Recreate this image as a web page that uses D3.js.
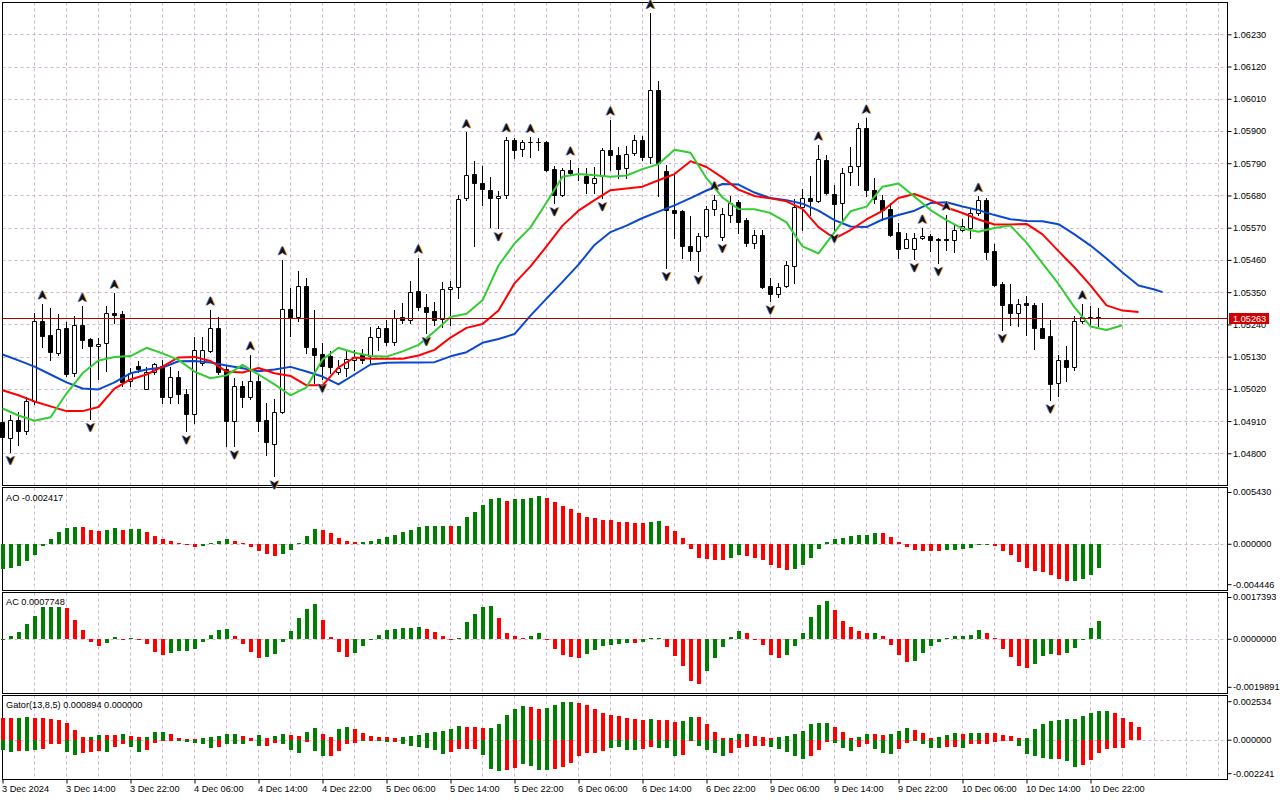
<!DOCTYPE html>
<html>
<head>
<meta charset="utf-8">
<script src="https://cdn.jsdelivr.net/npm/d3@7"></script>
<style>
  body { margin: 0; background: #fff; overflow: hidden; }
  svg text { font-family: "Liberation Sans", Arial, sans-serif; font-size: 9.2px; fill: #000; }
  svg text.bid { fill: #fff; }
</style>
</head>
<body>
<div id="chart"></div>
<script>
// EURUSD H1, 3 Dec 06:00 .. 10 Dec 23:00 (one entry per bar)
const open = [
  1.04908,1.04853,1.04915,1.04875,1.04978,1.05253,1.05205,1.05143,1.05226,1.05073,
  1.05239,1.05190,1.05165,1.05177,1.05279,1.05276,1.05046,1.05099,1.05020,1.05077,
  1.05099,1.04993,1.05062,1.05004,1.04935,1.05109,1.05150,1.05228,1.05089,1.04910,
  1.05031,1.04991,1.05046,1.04912,1.04832,1.04941,1.05293,1.05265,1.05372,1.05160,
  1.05139,1.05131,1.05077,1.05092,1.05120,1.05137,1.05131,1.05197,1.05228,1.05180,
  1.05264,1.05255,1.05353,1.05300,1.05285,1.05260,1.05361,1.05367,1.05671,1.05754,
  1.05723,1.05700,1.05671,1.05680,1.05870,1.05838,1.05861,1.05862,1.05862,1.05770,
  1.05683,1.05766,1.05754,1.05747,1.05723,1.05745,1.05836,1.05819,1.05774,1.05824,
  1.05869,1.05811,1.06041,1.05765,1.05631,1.05626,1.05509,1.05489,1.05540,1.05634,
  1.05537,1.05614,1.05656,1.05595,1.05518,1.05546,1.05372,1.05342,1.05370,1.05438,
  1.05641,1.05671,1.05660,1.05802,1.05686,1.05654,1.05759,1.05779,1.05910,1.05700,
  1.05666,1.05635,1.05554,1.05501,1.05497,1.05535,1.05543,1.05532,1.05532,1.05529,
  1.05561,1.05569,1.05620,1.05666,1.05489,1.05379,1.05311,1.05279,1.05314,1.05307,
  1.05228,1.05199,1.05040,1.05117,1.05094,1.05250,1.05266,1.05265
];
const high = [
  1.04922,1.04932,1.04941,1.04991,1.05279,1.05310,1.05296,1.05276,1.05247,1.05270,
  1.05302,1.05195,1.05194,1.05302,1.05347,1.05287,1.05092,1.05116,1.05096,1.05109,
  1.05120,1.05094,1.05082,1.05018,1.05196,1.05196,1.05290,1.05264,1.05103,1.05058,
  1.05048,1.05137,1.05069,1.04972,1.04986,1.05461,1.05365,1.05421,1.05399,1.05290,
  1.05175,1.05148,1.05120,1.05148,1.05154,1.05156,1.05231,1.05234,1.05256,1.05290,
  1.05313,1.05387,1.05467,1.05345,1.05317,1.05384,1.05387,1.05683,1.05895,1.05796,
  1.05781,1.05743,1.05694,1.05881,1.05876,1.05870,1.05879,1.05876,1.05866,1.05779,
  1.05774,1.05802,1.05775,1.05774,1.05777,1.05842,1.05938,1.05847,1.05850,1.05887,
  1.05884,1.06302,1.06069,1.05783,1.05751,1.05631,1.05611,1.05552,1.05643,1.05683,
  1.05637,1.05677,1.05666,1.05603,1.05561,1.05563,1.05399,1.05382,1.05455,1.05668,
  1.05703,1.05745,1.05853,1.05819,1.05717,1.05774,1.05847,1.05927,1.05944,1.05740,
  1.05683,1.05654,1.05586,1.05552,1.05552,1.05569,1.05548,1.05536,1.05614,1.05580,
  1.05600,1.05637,1.05677,1.05670,1.05515,1.05385,1.05379,1.05325,1.05336,1.05313,
  1.05313,1.05256,1.05137,1.05165,1.05267,1.05310,1.05304,1.05296
];
const low = [
  1.04840,1.04805,1.04830,1.04867,1.04967,1.05163,1.05117,1.05134,1.05065,1.05063,
  1.05160,1.04918,1.05052,1.05080,1.05245,1.05029,1.05029,1.05079,1.05018,1.05072,
  1.04970,1.04970,1.04970,1.04875,1.04904,1.05103,1.05147,1.05072,1.04824,1.04824,
  1.04957,1.04987,1.04875,1.04793,1.04722,1.04936,1.05199,1.05251,1.05143,1.05041,
  1.05052,1.05075,1.05072,1.05063,1.05086,1.05109,1.05109,1.05154,1.05168,1.05171,
  1.05245,1.05245,1.05290,1.05211,1.05239,1.05232,1.05239,1.05330,1.05665,1.05506,
  1.05646,1.05572,1.05569,1.05672,1.05808,1.05816,1.05811,1.05836,1.05762,1.05654,
  1.05679,1.05751,1.05734,1.05688,1.05688,1.05671,1.05768,1.05740,1.05740,1.05819,
  1.05802,1.05791,1.05677,1.05433,1.05535,1.05467,1.05461,1.05421,1.05539,1.05614,
  1.05529,1.05588,1.05552,1.05506,1.05501,1.05364,1.05319,1.05335,1.05369,1.05382,
  1.05563,1.05614,1.05659,1.05686,1.05563,1.05592,1.05717,1.05717,1.05677,1.05654,
  1.05597,1.05540,1.05467,1.05499,1.05463,1.05530,1.05489,1.05450,1.05495,1.05486,
  1.05557,1.05535,1.05614,1.05463,1.05372,1.05222,1.05239,1.05236,1.05203,1.05156,
  1.05192,1.04981,1.04995,1.05046,1.05086,1.05245,1.05239,1.05236
];
const close = [
  1.04854,1.04913,1.04875,1.04978,1.05253,1.05199,1.05146,1.05225,1.05072,1.05238,
  1.05188,1.05165,1.05172,1.05279,1.05272,1.05044,1.05075,1.05089,1.05079,1.05105,
  1.04991,1.05061,1.05003,1.04935,1.05151,1.05151,1.05228,1.05077,1.04910,1.05029,
  1.04991,1.05048,1.04910,1.04838,1.04941,1.05293,1.05265,1.05370,1.05162,1.05137,
  1.05097,1.05093,1.05092,1.05122,1.05130,1.05120,1.05197,1.05228,1.05180,1.05262,
  1.05255,1.05351,1.05300,1.05281,1.05256,1.05361,1.05368,1.05669,1.05751,1.05723,
  1.05702,1.05671,1.05679,1.05870,1.05836,1.05864,1.05864,1.05861,1.05768,1.05683,
  1.05768,1.05757,1.05752,1.05723,1.05740,1.05836,1.05817,1.05770,1.05822,1.05869,
  1.05811,1.06041,1.05791,1.05629,1.05620,1.05506,1.05489,1.05543,1.05635,1.05666,
  1.05618,1.05654,1.05588,1.05518,1.05546,1.05368,1.05342,1.05368,1.05444,1.05641,
  1.05670,1.05660,1.05804,1.05688,1.05652,1.05757,1.05782,1.05910,1.05700,1.05669,
  1.05631,1.05546,1.05497,1.05533,1.05535,1.05543,1.05527,1.05528,1.05527,1.05563,
  1.05575,1.05620,1.05666,1.05486,1.05376,1.05307,1.05279,1.05310,1.05307,1.05228,
  1.05194,1.05037,1.05117,1.05094,1.05253,1.05264,1.05265,1.05263
];
const lastPrice = 1.05263;

// Bill Williams fractals (bar indices)
const fractalUp = [5, 10, 14, 26, 31, 35, 52, 58, 63, 66, 71, 76, 81, 89, 102, 108, 115, 118, 122, 135];
const fractalDown = [1, 11, 23, 29, 34, 40, 53, 62, 69, 75, 83, 87, 90, 96, 104, 114, 117, 125, 131];

// Alligator lines, read every second bar (lines run past the last bar by their shift)
const jaw = [
  1.05137,1.05117,1.05096,1.05069,1.05042,1.05021,1.05018,1.05042,1.05073,1.05086,
  1.05093,1.05114,1.05115,1.05110,1.05100,1.05090,1.05080,1.05086,1.05095,1.05079,
  1.05062,1.05035,1.05069,1.05103,1.05109,1.05110,1.05110,1.05111,1.05131,1.05145,
  1.05177,1.05190,1.05207,1.05270,1.05328,1.05385,1.05444,1.05511,1.05555,1.05577,
  1.05603,1.05625,1.05646,1.05671,1.05697,1.05719,1.05717,1.05690,1.05671,1.05664,
  1.05652,1.05628,1.05596,1.05574,1.05572,1.05598,1.05613,1.05628,1.05654,1.05657,
  1.05642,1.05630,1.05613,1.05599,1.05593,1.05592,1.05582,1.05547,1.05509,1.05465,
  1.05417,1.05373,1.05359,1.05350
];
const teeth = [
  1.05015,1.04998,1.04977,1.04960,1.04944,1.04944,1.04958,1.05021,1.05052,1.05069,
  1.05096,1.05127,1.05129,1.05115,1.05079,1.05076,1.05091,1.05073,1.05064,1.05032,
  1.05032,1.05093,1.05127,1.05123,1.05123,1.05123,1.05134,1.05153,1.05195,1.05228,
  1.05241,1.05287,1.05380,1.05438,1.05506,1.05577,1.05628,1.05664,1.05698,1.05704,
  1.05710,1.05732,1.05753,1.05797,1.05777,1.05741,1.05700,1.05678,1.05670,1.05660,
  1.05634,1.05572,1.05533,1.05562,1.05598,1.05627,1.05671,1.05685,1.05664,1.05639,
  1.05620,1.05598,1.05581,1.05581,1.05583,1.05547,1.05490,1.05434,1.05373,1.05305,
  1.05287,1.05282
];
const lips = [
  1.04953,1.04929,1.04911,1.04923,1.05004,1.05073,1.05117,1.05129,1.05132,1.05160,
  1.05141,1.05119,1.05079,1.05056,1.05066,1.05102,1.05069,1.05035,1.04998,1.05025,
  1.05120,1.05160,1.05143,1.05132,1.05130,1.05148,1.05170,1.05216,1.05265,1.05276,
  1.05322,1.05441,1.05516,1.05571,1.05656,1.05744,1.05753,1.05749,1.05744,1.05748,
  1.05770,1.05787,1.05836,1.05826,1.05739,1.05673,1.05634,1.05633,1.05620,1.05588,
  1.05506,1.05482,1.05555,1.05626,1.05642,1.05710,1.05721,1.05676,1.05630,1.05596,
  1.05567,1.05556,1.05569,1.05577,1.05519,1.05448,1.05378,1.05298,1.05233,1.05221,
  1.05237
];
const jawBars = d3.range(0, 145, 2).concat([145]);
const teethBars = d3.range(0, 143, 2);
const lipsBars = d3.range(0, 141, 2);

// Awesome Oscillator
const ao = [
  -0.00252,-0.00241,-0.00218,-0.00167,-0.00109,-0.00017,0.00054,0.00129,0.00170,0.00177,
  0.00173,0.00146,0.00136,0.00150,0.00170,0.00150,0.00156,0.00156,0.00126,0.00085,
  0.00054,0.00034,0.00014,0.00003,-0.00024,-0.00014,0.00010,0.00034,0.00054,0.00034,
  0.00010,-0.00024,-0.00068,-0.00095,-0.00116,-0.00095,-0.00054,0.00010,0.00085,0.00156,
  0.00146,0.00112,0.00065,0.00034,0.00020,0.00027,0.00034,0.00054,0.00078,0.00095,
  0.00126,0.00150,0.00180,0.00187,0.00187,0.00187,0.00187,0.00187,0.00279,0.00330,
  0.00401,0.00462,0.00473,0.00445,0.00462,0.00462,0.00473,0.00493,0.00476,0.00435,
  0.00391,0.00360,0.00320,0.00279,0.00269,0.00252,0.00248,0.00228,0.00228,0.00218,
  0.00218,0.00228,0.00238,0.00187,0.00136,0.00065,-0.00048,-0.00136,-0.00150,-0.00160,
  -0.00160,-0.00136,-0.00109,-0.00119,-0.00136,-0.00160,-0.00211,-0.00238,-0.00262,-0.00252,
  -0.00211,-0.00136,-0.00048,0.00020,0.00054,0.00065,0.00085,0.00095,0.00095,0.00116,
  0.00116,0.00078,0.00024,-0.00024,-0.00058,-0.00068,-0.00068,-0.00068,-0.00058,-0.00058,
  -0.00048,-0.00034,-0.00003,-0.00003,-0.00017,-0.00068,-0.00109,-0.00180,-0.00241,-0.00272,
  -0.00282,-0.00313,-0.00354,-0.00374,-0.00374,-0.00354,-0.00313,-0.002417
];
const aoColors = "gggggggggg" + "rrrggrggrr" + "rrrrrggggr" + "rrrrrggggg" + "rrrrrggggg" +
  "ggggggrggg" + "gggrggggrr" + "rrrrrrrrrr" + "rggrrrrrrr" + "rggrrrrrrg" +
  "gggggggggg" + "rrrrrrrrgg" + "ggggrrrrrr" + "rrrrgggg";

// Accelerator Oscillator
const ac = [
  0.00000,0.00012,0.00030,0.00062,0.00095,0.00133,0.00133,0.00133,0.00128,0.00079,
  0.00039,-0.00011,-0.00029,-0.00015,0.00008,-0.00001,0.00004,0.00003,-0.00021,-0.00052,
  -0.00066,-0.00058,-0.00050,-0.00050,-0.00041,-0.00010,0.00017,0.00039,0.00041,0.00012,
  -0.00021,-0.00052,-0.00079,-0.00073,-0.00062,-0.00011,0.00033,0.00087,0.00127,0.00145,
  0.00079,0.00008,-0.00052,-0.00075,-0.00058,-0.00028,0.00001,0.00019,0.00037,0.00041,
  0.00048,0.00048,0.00052,0.00041,0.00029,0.00012,-0.00001,0.00004,0.00072,0.00104,
  0.00133,0.00137,0.00087,0.00025,0.00012,0.00004,0.00012,0.00025,-0.00001,-0.00040,
  -0.00065,-0.00073,-0.00077,-0.00062,-0.00044,-0.00028,-0.00023,-0.00019,-0.00015,-0.00014,
  -0.00010,0.00007,0.00007,-0.00032,-0.00069,-0.00110,-0.00173,-0.00185,-0.00131,-0.00077,
  -0.00032,0.00008,0.00033,0.00025,-0.00001,-0.00025,-0.00065,-0.00077,-0.00065,-0.00028,
  0.00025,0.00091,0.00141,0.00157,0.00120,0.00075,0.00050,0.00033,0.00025,0.00025,
  0.00012,-0.00025,-0.00065,-0.00094,-0.00090,-0.00058,-0.00029,-0.00011,0.00004,0.00012,
  0.00012,0.00017,0.00037,0.00025,0.00004,-0.00041,-0.00075,-0.00112,-0.00120,-0.00104,
  -0.00070,-0.00062,-0.00066,-0.00058,-0.00037,-0.00002,0.00046,0.0007748
];
const acColors = "ggggggggrr" + "rrrggrgrrr" + "rggggggggr" + "rrrggggggg" + "rrrrgggggg" +
  "gggrrrrggg" + "ggrrrrggrr" + "rrrggggggr" + "gggrrrrrgg" + "gggrrrrrgg" +
  "ggggrrrrrg" + "rrrrgggggg" + "gggrrrrrrg" + "ggrggggg";

// Gator oscillator: upper |jaw-teeth|, lower -|teeth-lips|
const gatorUp = [
  0.00147,0.00147,0.00147,0.00153,0.00147,0.00147,0.00138,0.00131,0.00114,0.00066,
  0.00020,0.00020,0.00035,0.00035,0.00035,0.00042,0.00026,0.00022,0.00022,0.00055,
  0.00055,0.00042,0.00013,0.00007,0.00007,0.00015,0.00020,0.00028,0.00042,0.00042,
  0.00026,0.00013,0.00035,0.00013,0.00026,0.00042,0.00035,0.00026,0.00055,0.00081,
  0.00042,0.00022,0.00075,0.00088,0.00075,0.00048,0.00028,0.00022,0.00020,0.00015,
  0.00020,0.00031,0.00035,0.00048,0.00055,0.00061,0.00075,0.00094,0.00088,0.00088,
  0.00081,0.00081,0.00107,0.00169,0.00206,0.00228,0.00221,0.00206,0.00212,0.00234,
  0.00252,0.00252,0.00245,0.00232,0.00206,0.00180,0.00167,0.00160,0.00147,0.00140,
  0.00136,0.00140,0.00134,0.00134,0.00121,0.00127,0.00153,0.00153,0.00107,0.00055,
  0.00015,0.00015,0.00042,0.00042,0.00028,0.00022,0.00013,0.00022,0.00028,0.00042,
  0.00061,0.00107,0.00114,0.00114,0.00088,0.00055,0.00015,0.00022,0.00042,0.00042,
  0.00035,0.00042,0.00061,0.00081,0.00068,0.00048,0.00015,0.00022,0.00035,0.00048,
  0.00042,0.00048,0.00048,0.00048,0.00048,0.00035,0.00028,0.00015,0.00015,0.00075,
  0.00107,0.00127,0.00134,0.00140,0.00142,0.00162,0.00180,0.00193,0.00193,0.00180,
  0.00147,0.00121,0.000894
];
const gatorDown = [
  -0.00064,-0.00075,-0.00068,-0.00068,-0.00061,-0.00057,-0.00022,-0.00022,-0.00077,-0.00094,
  -0.00085,-0.00077,-0.00072,-0.00077,-0.00044,-0.00022,-0.00044,-0.00077,-0.00061,-0.00015,
  -0.00002,-0.00001,-0.00002,-0.00009,-0.00015,-0.00022,-0.00048,-0.00042,-0.00028,-0.00028,
  -0.00028,-0.00004,-0.00035,-0.00035,-0.00015,-0.00028,-0.00061,-0.00081,-0.00009,-0.00068,
  -0.00101,-0.00101,-0.00068,-0.00028,-0.00015,-0.00002,-0.00004,-0.00004,-0.00009,-0.00009,
  -0.00022,-0.00035,-0.00042,-0.00048,-0.00061,-0.00088,-0.00075,-0.00057,-0.00057,-0.00057,
  -0.00094,-0.00189,-0.00204,-0.00195,-0.00182,-0.00156,-0.00167,-0.00199,-0.00199,-0.00189,
  -0.00177,-0.00151,-0.00107,-0.00081,-0.00081,-0.00068,-0.00048,-0.00042,-0.00061,-0.00061,
  -0.00057,-0.00042,-0.00048,-0.00053,-0.00101,-0.00094,-0.00004,-0.00035,-0.00061,-0.00081,
  -0.00101,-0.00081,-0.00048,-0.00042,-0.00035,-0.00035,-0.00042,-0.00055,-0.00075,-0.00107,
  -0.00121,-0.00107,-0.00061,-0.00009,-0.00015,-0.00048,-0.00068,-0.00042,-0.00028,-0.00055,
  -0.00081,-0.00088,-0.00055,-0.00015,-0.00002,-0.00028,-0.00048,-0.00048,-0.00042,-0.00042,
  -0.00048,-0.00028,-0.00022,-0.00022,-0.00009,-0.00002,-0.00002,-0.00035,-0.00088,-0.00107,
  -0.00114,-0.00121,-0.00123,-0.00138,-0.00173,-0.00160,-0.00129,-0.00081,-0.00055,-0.00048,
  -0.00048
];
const gatorUpColors = "rrggrrrrrr" + "rggrrgrrgg" + "grrrrggggg" + "rrgrggrrgg" + "rrggrrrrrr" +
  "ggggggggrr" + "rgggggrrgg" + "ggrrrrrrrr" + "rgrrrggrrr" + "rggrrrrggg" +
  "ggggrrrggr" + "rgggrrrggg" + "rggrrrrrgg" + "gggggggggr" + "rrr";
const gatorDownColors = "ggrggrrrgg" + "rrrgrrggrr" + "rrgggggrgg" + "grgrrgggrg" + "grrrrgrggr" +
  "ggggggrrrr" + "gggrrggggr" + "rrrrrrgggg" + "rrgggrrggg" + "grrrrrgggg" +
  "grrrgggrrg" + "ggrrggggrr" + "grrrrrrggg" + "ggrggrrrrr" + "r";

// axis labels
const priceTicks = [1.06230, 1.06120, 1.06010, 1.05900, 1.05790, 1.05680, 1.05570,
  1.05460, 1.05350, 1.05240, 1.05130, 1.05020, 1.04910, 1.04800];
const timeLabels = ["3 Dec 2024", "3 Dec 14:00", "3 Dec 22:00", "4 Dec 06:00", "4 Dec 14:00",
  "4 Dec 22:00", "5 Dec 06:00", "5 Dec 14:00", "5 Dec 22:00", "6 Dec 06:00", "6 Dec 14:00",
  "6 Dec 22:00", "9 Dec 06:00", "9 Dec 14:00", "9 Dec 22:00", "10 Dec 06:00", "10 Dec 14:00",
  "10 Dec 22:00"];
const aoTicks = [0.005430, 0, -0.004446];
const acTicks = [0.0017393, 0, -0.0019891];
const gatorTicks = [0.002534, 0, -0.002241];

const GREEN = '#008000', RED = '#ff0000', GRID = '#cdb6cd';
const left = 2.5, right = 1227.5;

const svg = d3.select('#chart')
  .append('svg')
  .attr('width', 1280)
  .attr('height', 800);

svg.append('rect').attr('width', 1280).attr('height', 800).attr('fill', '#fff');

const x = d3.scaleLinear().domain([0, 152]).range([2.5, 1218.5]);

const panels = {
  main: { top: 2.5, bottom: 485.5 },
  ao: { top: 487.5, bottom: 590.5 },
  ac: { top: 592.5, bottom: 693.5 },
  gator: { top: 695.5, bottom: 779.5 }
};

const yMain = d3.scaleLinear().domain([1.04800, 1.06230]).range([453.3, 34.3]);
const yAO = d3.scaleLinear().domain([-0.004446, 0.005430]).range([587.8, 491.1]);
const yAC = d3.scaleLinear().domain([-0.0019891, 0.0017393]).range([687.3, 597.3]);
const yGator = d3.scaleLinear().domain([-0.002241, 0.002534]).range([774.3, 701.7]);

const defs = svg.append('defs');
Object.entries(panels).forEach(([name, p]) => {
  defs.append('clipPath').attr('id', 'clip-' + name)
    .append('rect')
    .attr('x', 0).attr('y', p.top + 0.5)
    .attr('width', right - 0.5).attr('height', p.bottom - p.top - 1);
});

// grid
const gridG = svg.append('g');
Object.values(panels).forEach(p => {
  d3.range(4, 153, 4).forEach(i => {
    gridG.append('line')
      .attr('x1', x(i)).attr('x2', x(i))
      .attr('y1', p.top).attr('y2', p.bottom)
      .attr('stroke', GRID).attr('stroke-dasharray', '3,3');
  });
});
priceTicks.forEach(v => {
  const yy = Math.round(yMain(v)) + 0.5;
  gridG.append('line')
    .attr('x1', left).attr('x2', right).attr('y1', yy).attr('y2', yy)
    .attr('stroke', GRID).attr('stroke-dasharray', '3,3');
});
[yAO, yAC, yGator].forEach(s => {
  const yy = Math.round(s(0)) + 0.5;
  gridG.append('line')
    .attr('x1', left).attr('x2', right).attr('y1', yy).attr('y2', yy)
    .attr('stroke', GRID).attr('stroke-dasharray', '3,3');
});

// panel frames
Object.values(panels).forEach(p => {
  svg.append('rect')
    .attr('x', left).attr('y', p.top)
    .attr('width', right - left).attr('height', p.bottom - p.top)
    .attr('fill', 'none').attr('stroke', '#000');
});

// candles
const candleG = svg.append('g').attr('clip-path', 'url(#clip-main)');
open.forEach((o, i) => {
  const c = close[i];
  const cx = x(i);
  const top = Math.round(yMain(Math.max(o, c))) + 0.5;
  const bot = Math.round(yMain(Math.min(o, c))) + 0.5;
  candleG.append('line')
    .attr('x1', cx).attr('x2', cx)
    .attr('y1', Math.round(yMain(high[i]))).attr('y2', Math.round(yMain(low[i])) + 1)
    .attr('stroke', '#000');
  candleG.append('path')
    .attr('d', `M${cx - 2},${top}H${cx + 2}V${bot}H${cx - 2}Z`)
    .attr('fill', c > o ? '#fff' : '#000')
    .attr('stroke', '#000');
});

// alligator
const lineGen = d3.line().x(d => x(d[0])).y(d => yMain(d[1]));
const lineG = svg.append('g').attr('clip-path', 'url(#clip-main)');
[
  { bars: jawBars, values: jaw, color: '#0a48d2' },
  { bars: teethBars, values: teeth, color: '#ff0000' },
  { bars: lipsBars, values: lips, color: '#32cd32' }
].forEach(s => {
  lineG.append('path')
    .datum(s.bars.map((b, i) => [b, s.values[i]]))
    .attr('d', lineGen)
    .attr('fill', 'none')
    .attr('stroke', s.color)
    .attr('stroke-width', 2)
    .attr('stroke-linejoin', 'round');
});

// fractal arrows
const arrowUp = 'M0,-9.5L4.2,0L0,-3L-4.2,0Z';
const arrowDown = 'M0,9.5L4.2,0L0,3L-4.2,0Z';
function drawArrow(path, cx, cy) {
  const g = svg.append('g').attr('transform', `translate(${cx},${cy})`);
  g.append('path').attr('d', path).attr('fill', '#4a78e0').attr('transform', 'translate(-1,0)');
  g.append('path').attr('d', path).attr('fill', '#f0a040').attr('transform', 'translate(1,0)');
  g.append('path').attr('d', path).attr('fill', '#111');
}
fractalUp.forEach(i => drawArrow(arrowUp, x(i), yMain(high[i]) - 4));
fractalDown.forEach(i => drawArrow(arrowDown, x(i), yMain(low[i]) + 4));

// histograms
function histogram(name, values, colors, y) {
  const y0 = Math.round(y(0));
  svg.append('g').attr('clip-path', `url(#clip-${name})`)
    .selectAll('rect').data(values).join('rect')
    .attr('x', (d, i) => x(i) - 1.5)
    .attr('width', 4)
    .attr('y', d => Math.min(y0, Math.round(y(d))))
    .attr('height', d => Math.max(1, Math.abs(Math.round(y(d)) - y0)))
    .attr('fill', (d, i) => colors[i] === 'g' ? GREEN : RED);
}
histogram('ao', ao, aoColors, yAO);
histogram('ac', ac, acColors, yAC);
histogram('gator', gatorUp, gatorUpColors, yGator);
histogram('gator', gatorDown, gatorDownColors, yGator);

// price axis
const priceAxis = svg.append('g')
  .attr('transform', `translate(${right},0)`)
  .call(d3.axisRight(yMain).tickValues(priceTicks).tickSize(4).tickPadding(1.5)
    .tickFormat(d => d.toFixed(5)));
priceAxis.select('.domain').remove();

// indicator axes, labels kept inside their window
function sideAxis(scale, ticks, digits, p) {
  const g = svg.append('g')
    .attr('transform', `translate(${right},0)`)
    .call(d3.axisRight(scale).tickValues(ticks).tickSize(4).tickPadding(1.5)
      .tickFormat(d => d.toFixed(digits)));
  g.select('.domain').remove();
  g.selectAll('.tick')
    .attr('transform', d => `translate(0,${Math.max(p.top + 5, Math.min(p.bottom - 5.8, scale(d)))})`);
}
sideAxis(yAO, aoTicks, 6, panels.ao);
sideAxis(yAC, acTicks, 7, panels.ac);
sideAxis(yGator, gatorTicks, 6, panels.gator);

// time axis
const timeAxis = svg.append('g')
  .attr('transform', `translate(0,${panels.gator.bottom})`)
  .call(d3.axisBottom(x).tickValues(d3.range(0, 137, 8)).tickSize(4).tickPadding(2)
    .tickFormat((d, i) => timeLabels[i]));
timeAxis.select('.domain').remove();
timeAxis.selectAll('.tick text').attr('text-anchor', 'start').attr('x', -1);

// bid line and label (the label sits over the 1.05240 tick, as in the terminal)
const yBid = Math.round(yMain(lastPrice)) + 0.5;
svg.append('line')
  .attr('x1', left).attr('x2', right).attr('y1', yBid).attr('y2', yBid)
  .attr('stroke', '#b40000');
svg.append('rect')
  .attr('x', 1229).attr('y', yBid - 5.5).attr('width', 40).attr('height', 11)
  .attr('fill', '#d00000');
svg.append('text').attr('class', 'bid')
  .attr('x', 1233).attr('y', yBid + 3.3)
  .text(lastPrice.toFixed(5));

// indicator captions
svg.append('text').attr('x', 6).attr('y', 500.5).text('AO ' + ao[ao.length - 1].toFixed(6));
svg.append('text').attr('x', 6).attr('y', 604.5).text('AC ' + ac[ac.length - 1].toFixed(7));
svg.append('text').attr('x', 6).attr('y', 707.5)
  .text('Gator(13,8,5) ' + gatorUp[gatorUp.length - 1].toFixed(6) + ' 0.000000');
</script>
</body>
</html>
